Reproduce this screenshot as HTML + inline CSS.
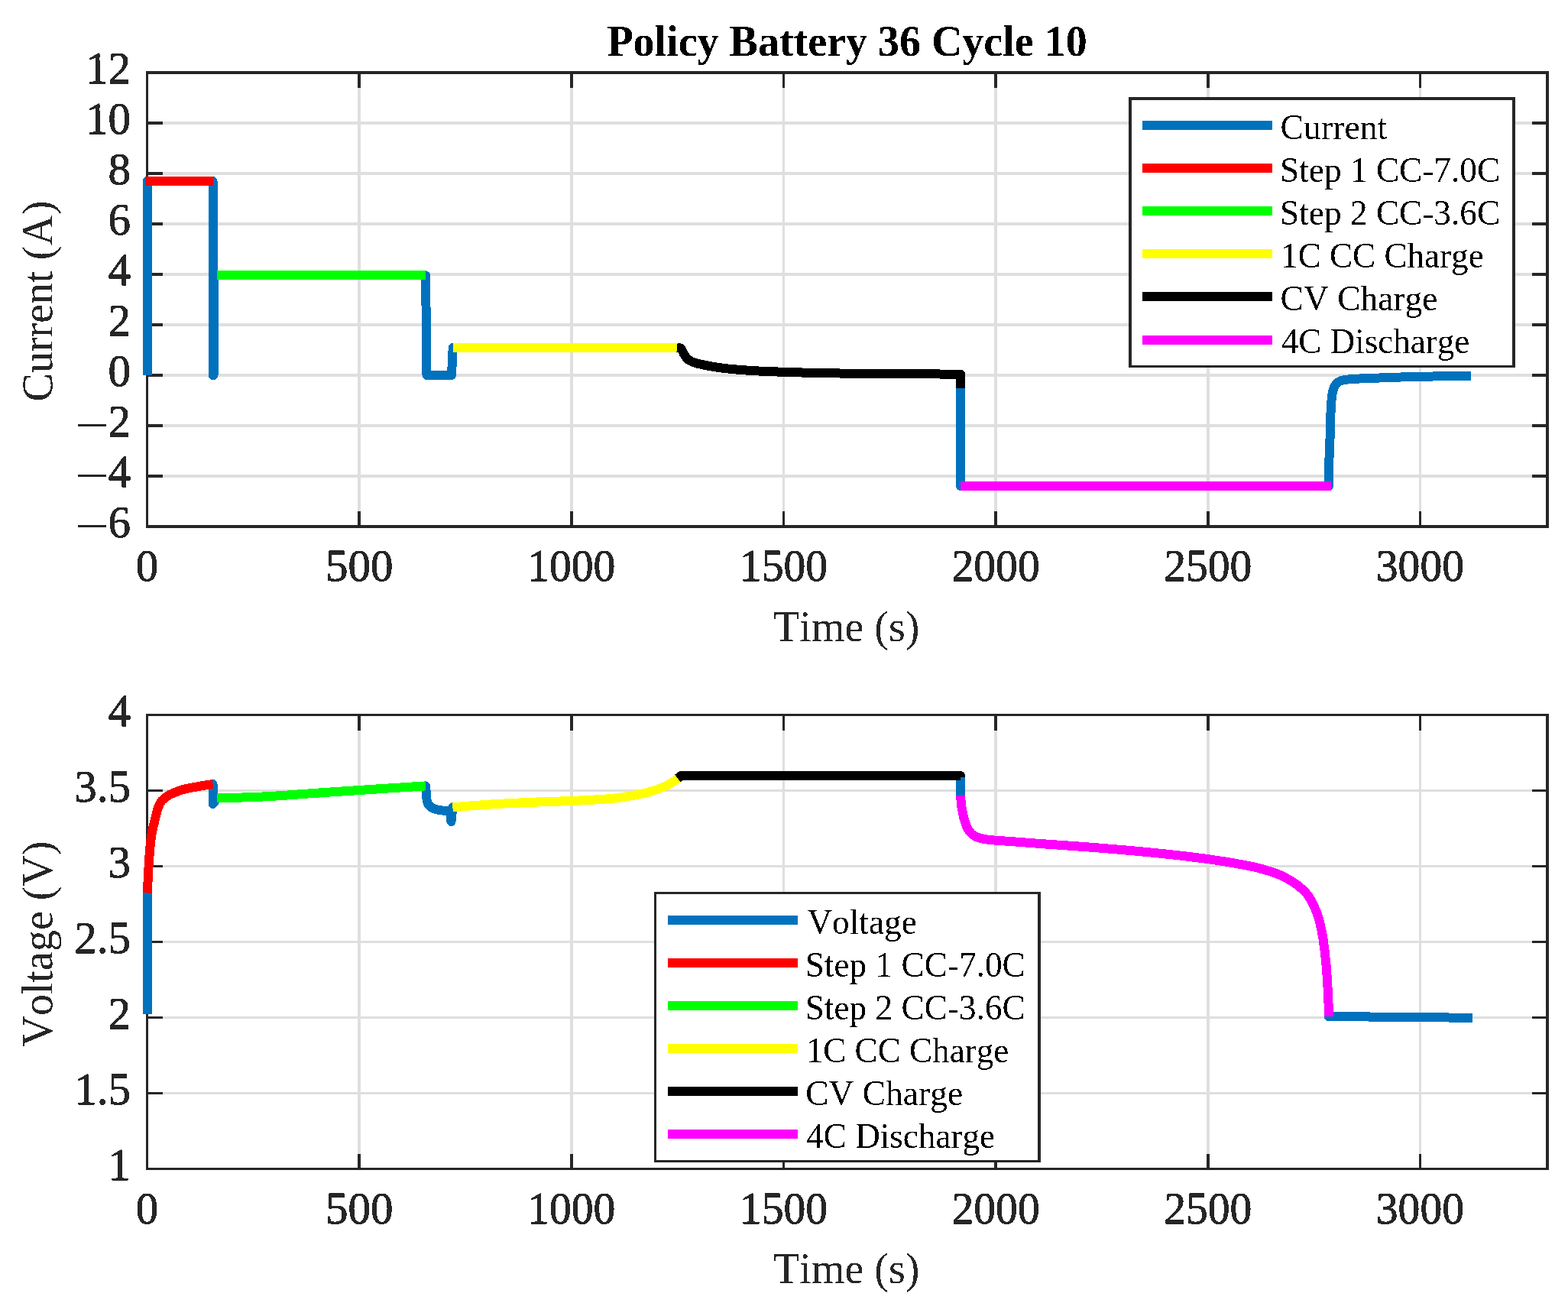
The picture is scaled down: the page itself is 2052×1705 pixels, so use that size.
<!DOCTYPE html><html><head><meta charset="utf-8"><title>Policy Battery 36 Cycle 10</title><style>html,body{margin:0;padding:0;background:#fff;}svg{display:block;}text{font-kerning:none;}</style></head><body>
<svg width="2052" height="1705" viewBox="0 0 2052 1705" shape-rendering="crispEdges">
<defs><filter id="bin" color-interpolation-filters="sRGB"><feComponentTransfer><feFuncA type="discrete" tableValues="0 1"/></feComponentTransfer></filter></defs>
<rect width="2052" height="1705" fill="#ffffff"/>
<line x1="470.15" y1="95" x2="470.15" y2="689" stroke="#dfdfdf" stroke-width="3.6"/><line x1="747.8" y1="95" x2="747.8" y2="689" stroke="#dfdfdf" stroke-width="3.6"/><line x1="1025.45" y1="95" x2="1025.45" y2="689" stroke="#dfdfdf" stroke-width="3.6"/><line x1="1303.11" y1="95" x2="1303.11" y2="689" stroke="#dfdfdf" stroke-width="3.6"/><line x1="1580.76" y1="95" x2="1580.76" y2="689" stroke="#dfdfdf" stroke-width="3.6"/><line x1="1858.41" y1="95" x2="1858.41" y2="689" stroke="#dfdfdf" stroke-width="3.6"/><line x1="192.5" y1="623" x2="2025" y2="623" stroke="#dfdfdf" stroke-width="3.6"/><line x1="192.5" y1="557" x2="2025" y2="557" stroke="#dfdfdf" stroke-width="3.6"/><line x1="192.5" y1="491" x2="2025" y2="491" stroke="#dfdfdf" stroke-width="3.6"/><line x1="192.5" y1="425" x2="2025" y2="425" stroke="#dfdfdf" stroke-width="3.6"/><line x1="192.5" y1="359" x2="2025" y2="359" stroke="#dfdfdf" stroke-width="3.6"/><line x1="192.5" y1="293" x2="2025" y2="293" stroke="#dfdfdf" stroke-width="3.6"/><line x1="192.5" y1="227" x2="2025" y2="227" stroke="#dfdfdf" stroke-width="3.6"/><line x1="192.5" y1="161" x2="2025" y2="161" stroke="#dfdfdf" stroke-width="3.6"/>
<line x1="470.15" y1="935.5" x2="470.15" y2="1529.5" stroke="#dfdfdf" stroke-width="3.6"/><line x1="747.8" y1="935.5" x2="747.8" y2="1529.5" stroke="#dfdfdf" stroke-width="3.6"/><line x1="1025.45" y1="935.5" x2="1025.45" y2="1529.5" stroke="#dfdfdf" stroke-width="3.6"/><line x1="1303.11" y1="935.5" x2="1303.11" y2="1529.5" stroke="#dfdfdf" stroke-width="3.6"/><line x1="1580.76" y1="935.5" x2="1580.76" y2="1529.5" stroke="#dfdfdf" stroke-width="3.6"/><line x1="1858.41" y1="935.5" x2="1858.41" y2="1529.5" stroke="#dfdfdf" stroke-width="3.6"/><line x1="192.5" y1="1430.5" x2="2025" y2="1430.5" stroke="#dfdfdf" stroke-width="3.6"/><line x1="192.5" y1="1331.5" x2="2025" y2="1331.5" stroke="#dfdfdf" stroke-width="3.6"/><line x1="192.5" y1="1232.5" x2="2025" y2="1232.5" stroke="#dfdfdf" stroke-width="3.6"/><line x1="192.5" y1="1133.5" x2="2025" y2="1133.5" stroke="#dfdfdf" stroke-width="3.6"/><line x1="192.5" y1="1034.5" x2="2025" y2="1034.5" stroke="#dfdfdf" stroke-width="3.6"/>
<rect x="192.5" y="95" width="1832.5" height="594" fill="none" stroke="#262626" stroke-width="3.6"/><path d="M470.15 689 V669 M470.15 95 V115 M747.8 689 V669 M747.8 95 V115 M1025.45 689 V669 M1025.45 95 V115 M1303.11 689 V669 M1303.11 95 V115 M1580.76 689 V669 M1580.76 95 V115 M1858.41 689 V669 M1858.41 95 V115 M192.5 623 H212.5 M2025 623 H2005 M192.5 557 H212.5 M2025 557 H2005 M192.5 491 H212.5 M2025 491 H2005 M192.5 425 H212.5 M2025 425 H2005 M192.5 359 H212.5 M2025 359 H2005 M192.5 293 H212.5 M2025 293 H2005 M192.5 227 H212.5 M2025 227 H2005 M192.5 161 H212.5 M2025 161 H2005" stroke="#262626" stroke-width="3.6" fill="none"/>
<rect x="192.5" y="935.5" width="1832.5" height="594" fill="none" stroke="#262626" stroke-width="3.6"/><path d="M470.15 1529.5 V1509.5 M470.15 935.5 V955.5 M747.8 1529.5 V1509.5 M747.8 935.5 V955.5 M1025.45 1529.5 V1509.5 M1025.45 935.5 V955.5 M1303.11 1529.5 V1509.5 M1303.11 935.5 V955.5 M1580.76 1529.5 V1509.5 M1580.76 935.5 V955.5 M1858.41 1529.5 V1509.5 M1858.41 935.5 V955.5 M192.5 1430.5 H212.5 M2025 1430.5 H2005 M192.5 1331.5 H212.5 M2025 1331.5 H2005 M192.5 1232.5 H212.5 M2025 1232.5 H2005 M192.5 1133.5 H212.5 M2025 1133.5 H2005 M192.5 1034.5 H212.5 M2025 1034.5 H2005" stroke="#262626" stroke-width="3.6" fill="none"/>
<path d="M192.9 491 L192.9 237 L278.5 237 L278.5 491 L279.5 491 L279.5 360.3 L557 360.3 L557.5 400 L558.2 460 L558.5 491 L591 491 L592.7 454.9 L886 455 L886 455 C886.75 455.08 889.33 454.83 890.5 455.5 C891.67 456.17 892.08 457.42 893 459 C893.92 460.58 894.83 463.17 896 465 C897.17 466.83 898.5 468.67 900 470 C901.5 471.33 903.17 472.12 905 473 C906.83 473.88 908.72 474.63 911 475.3 C913.28 475.97 915.78 476.38 918.7 477 C921.62 477.62 924.45 478.28 928.5 479 C932.55 479.72 937.42 480.57 943 481.3 C948.58 482.03 954.33 482.73 962 483.4 C969.67 484.07 979.33 484.77 989 485.3 C998.67 485.83 1009.33 486.22 1020 486.6 C1030.67 486.98 1036.83 487.23 1053 487.6 C1069.17 487.97 1095.83 488.52 1117 488.8 C1138.17 489.08 1156.67 489.17 1180 489.3 C1203.33 489.43 1244.17 489.55 1257 489.6 L1257 635.8 L1739 635.8 L1739 636 C1739.08 630 1739.25 610.17 1739.5 600 C1739.75 589.83 1740.17 585 1740.5 575 C1740.83 565 1741.17 548.5 1741.5 540 C1741.83 531.5 1742.08 528.5 1742.5 524 C1742.92 519.5 1743.25 516.25 1744 513 C1744.75 509.75 1745.67 506.75 1747 504.5 C1748.33 502.25 1749.83 500.75 1752 499.5 C1754.17 498.25 1757 497.57 1760 497 C1763 496.43 1765.83 496.4 1770 496.1 C1774.17 495.8 1779.17 495.47 1785 495.2 C1790.83 494.93 1795.83 494.82 1805 494.5 C1814.17 494.18 1827.5 493.65 1840 493.3 C1852.5 492.95 1865.83 492.68 1880 492.4 C1894.17 492.12 1917.5 491.73 1925 491.6" fill="none" stroke="#0072bd" stroke-width="12" stroke-linecap="butt" stroke-linejoin="round" shape-rendering="crispEdges"/><path d="M190 237 L278.5 237" fill="none" stroke="#ff0000" stroke-width="12" stroke-linecap="butt" stroke-linejoin="round" shape-rendering="crispEdges"/><path d="M284 360.3 L557.4 360.3" fill="none" stroke="#00ff00" stroke-width="12" stroke-linecap="butt" stroke-linejoin="round" shape-rendering="crispEdges"/><path d="M592.7 454.9 L886.8 454.9" fill="none" stroke="#ffff00" stroke-width="12" stroke-linecap="butt" stroke-linejoin="round" shape-rendering="crispEdges"/><path d="M886 455 C886.75 455.08 889.33 454.83 890.5 455.5 C891.67 456.17 892.08 457.42 893 459 C893.92 460.58 894.83 463.17 896 465 C897.17 466.83 898.5 468.67 900 470 C901.5 471.33 903.17 472.12 905 473 C906.83 473.88 908.72 474.63 911 475.3 C913.28 475.97 915.78 476.38 918.7 477 C921.62 477.62 924.45 478.28 928.5 479 C932.55 479.72 937.42 480.57 943 481.3 C948.58 482.03 954.33 482.73 962 483.4 C969.67 484.07 979.33 484.77 989 485.3 C998.67 485.83 1009.33 486.22 1020 486.6 C1030.67 486.98 1036.83 487.23 1053 487.6 C1069.17 487.97 1095.83 488.52 1117 488.8 C1138.17 489.08 1156.67 489.17 1180 489.3 C1203.33 489.43 1244.17 489.55 1257 489.6 L1257 508" fill="none" stroke="#000000" stroke-width="12" stroke-linecap="butt" stroke-linejoin="round" shape-rendering="crispEdges"/><path d="M1257 635.8 L1742 635.8" fill="none" stroke="#ff00ff" stroke-width="12" stroke-linecap="butt" stroke-linejoin="round" shape-rendering="crispEdges"/>
<path d="M193 1327 L193 1168.5 L192.9 1168.5 C193.12 1163.75 193.63 1149.75 194.2 1140 C194.77 1130.25 195.55 1118.33 196.3 1110 C197.05 1101.67 197.72 1095.83 198.7 1090 C199.68 1084.17 201.22 1079.17 202.2 1075 C203.18 1070.83 203.7 1068.33 204.6 1065 C205.5 1061.67 206.37 1057.92 207.6 1055 C208.83 1052.08 209.93 1049.83 212 1047.5 C214.07 1045.17 217 1042.83 220 1041 C223 1039.17 226.67 1037.83 230 1036.5 C233.33 1035.17 235 1034.25 240 1033 C245 1031.75 253.58 1030.17 260 1029 C266.42 1027.83 275.42 1026.5 278.5 1026 L278.5 1052 L284 1044.5 C294.67 1044.13 326 1043.45 348 1042.3 C370 1041.15 393.17 1039.15 416 1037.6 C438.83 1036.05 461.5 1034.53 485 1033 C508.5 1031.47 545 1029.17 557 1028.4 L557 1028.4 C557.17 1030.33 557.67 1036.57 558 1040 C558.33 1043.43 558.33 1046.58 559 1049 C559.67 1051.42 560.5 1052.95 562 1054.5 C563.5 1056.05 565.83 1057.38 568 1058.3 C570.17 1059.22 572.33 1059.55 575 1060 C577.67 1060.45 582.5 1060.83 584 1061 L589 1062 L590.5 1075 L592.4 1056.3 C601.33 1055.63 628.07 1053.42 646 1052.3 C663.93 1051.18 682.67 1050.33 700 1049.6 C717.33 1048.87 733.33 1048.67 750 1047.9 C766.67 1047.13 786.67 1046.22 800 1045 C813.33 1043.78 821.67 1042.05 830 1040.6 C838.33 1039.15 843.33 1038.23 850 1036.3 C856.67 1034.37 864.67 1031.35 870 1029 C875.33 1026.65 879 1024 882 1022.2 C885 1020.4 887 1018.87 888 1018.2 L891.5 1015 L1257 1015 L1257 1041 L1257 1041 C1257.25 1043.5 1257.75 1051 1258.5 1056 C1259.25 1061 1260.25 1066.42 1261.5 1071 C1262.75 1075.58 1264.25 1080.08 1266 1083.5 C1267.75 1086.92 1269.5 1089.37 1272 1091.5 C1274.5 1093.63 1277.17 1095.05 1281 1096.3 C1284.83 1097.55 1287 1098.13 1295 1099 C1303 1099.87 1318.17 1100.68 1329 1101.5 C1339.83 1102.32 1341.83 1102.57 1360 1103.9 C1378.17 1105.23 1412 1107.4 1438 1109.5 C1464 1111.6 1492.33 1114.08 1516 1116.5 C1539.67 1118.92 1560.5 1121.3 1580 1124 C1599.5 1126.7 1620.07 1130.22 1633 1132.7 C1645.93 1135.18 1650.57 1136.85 1657.6 1138.9 C1664.63 1140.95 1669.33 1142.38 1675.2 1145 C1681.07 1147.62 1688.17 1151.68 1692.8 1154.6 C1697.43 1157.52 1699.8 1159.6 1703 1162.5 C1706.2 1165.4 1709.28 1168.25 1712 1172 C1714.72 1175.75 1717.1 1180.33 1719.3 1185 C1721.5 1189.67 1723.6 1195 1725.2 1200 C1726.8 1205 1727.82 1210 1728.9 1215 C1729.98 1220 1730.63 1222.5 1731.7 1230 C1732.77 1237.5 1734.35 1250 1735.3 1260 C1736.25 1270 1736.85 1280.83 1737.4 1290 C1737.95 1299.17 1738.37 1308.33 1738.6 1315 C1738.83 1321.67 1738.77 1327.5 1738.8 1330 L1927 1331.8" fill="none" stroke="#0072bd" stroke-width="12" stroke-linecap="butt" stroke-linejoin="round" shape-rendering="crispEdges"/><path d="M192.9 1168.5 C193.12 1163.75 193.63 1149.75 194.2 1140 C194.77 1130.25 195.55 1118.33 196.3 1110 C197.05 1101.67 197.72 1095.83 198.7 1090 C199.68 1084.17 201.22 1079.17 202.2 1075 C203.18 1070.83 203.7 1068.33 204.6 1065 C205.5 1061.67 206.37 1057.92 207.6 1055 C208.83 1052.08 209.93 1049.83 212 1047.5 C214.07 1045.17 217 1042.83 220 1041 C223 1039.17 226.67 1037.83 230 1036.5 C233.33 1035.17 235 1034.25 240 1033 C245 1031.75 253.58 1030.17 260 1029 C266.42 1027.83 275.42 1026.5 278.5 1026" fill="none" stroke="#ff0000" stroke-width="12" stroke-linecap="butt" stroke-linejoin="round" shape-rendering="crispEdges"/><path d="M284 1044.5 C294.67 1044.13 326 1043.45 348 1042.3 C370 1041.15 393.17 1039.15 416 1037.6 C438.83 1036.05 461.5 1034.53 485 1033 C508.5 1031.47 545 1029.17 557 1028.4" fill="none" stroke="#00ff00" stroke-width="12" stroke-linecap="butt" stroke-linejoin="round" shape-rendering="crispEdges"/><path d="M592.4 1056.3 C601.33 1055.63 628.07 1053.42 646 1052.3 C663.93 1051.18 682.67 1050.33 700 1049.6 C717.33 1048.87 733.33 1048.67 750 1047.9 C766.67 1047.13 786.67 1046.22 800 1045 C813.33 1043.78 821.67 1042.05 830 1040.6 C838.33 1039.15 843.33 1038.23 850 1036.3 C856.67 1034.37 864.67 1031.35 870 1029 C875.33 1026.65 879 1024 882 1022.2 C885 1020.4 887 1018.87 888 1018.2" fill="none" stroke="#ffff00" stroke-width="12" stroke-linecap="butt" stroke-linejoin="round" shape-rendering="crispEdges"/><path d="M886.7 1018.3 L891.5 1015 L1257 1015 L1257 1017" fill="none" stroke="#000000" stroke-width="12" stroke-linecap="butt" stroke-linejoin="round" shape-rendering="crispEdges"/><path d="M1257 1041 C1257.25 1043.5 1257.75 1051 1258.5 1056 C1259.25 1061 1260.25 1066.42 1261.5 1071 C1262.75 1075.58 1264.25 1080.08 1266 1083.5 C1267.75 1086.92 1269.5 1089.37 1272 1091.5 C1274.5 1093.63 1277.17 1095.05 1281 1096.3 C1284.83 1097.55 1287 1098.13 1295 1099 C1303 1099.87 1318.17 1100.68 1329 1101.5 C1339.83 1102.32 1341.83 1102.57 1360 1103.9 C1378.17 1105.23 1412 1107.4 1438 1109.5 C1464 1111.6 1492.33 1114.08 1516 1116.5 C1539.67 1118.92 1560.5 1121.3 1580 1124 C1599.5 1126.7 1620.07 1130.22 1633 1132.7 C1645.93 1135.18 1650.57 1136.85 1657.6 1138.9 C1664.63 1140.95 1669.33 1142.38 1675.2 1145 C1681.07 1147.62 1688.17 1151.68 1692.8 1154.6 C1697.43 1157.52 1699.8 1159.6 1703 1162.5 C1706.2 1165.4 1709.28 1168.25 1712 1172 C1714.72 1175.75 1717.1 1180.33 1719.3 1185 C1721.5 1189.67 1723.6 1195 1725.2 1200 C1726.8 1205 1727.82 1210 1728.9 1215 C1729.98 1220 1730.63 1222.5 1731.7 1230 C1732.77 1237.5 1734.35 1250 1735.3 1260 C1736.25 1270 1736.85 1280.83 1737.4 1290 C1737.95 1299.17 1738.37 1308.33 1738.6 1315 C1738.83 1321.67 1738.77 1327.5 1738.8 1330" fill="none" stroke="#ff00ff" stroke-width="12" stroke-linecap="butt" stroke-linejoin="round" shape-rendering="crispEdges"/>
<g font-family="Liberation Serif, serif" font-size="59" fill="#262626" stroke="#262626" stroke-width="0.8"><text filter="url(#bin)" x="171" y="703.3" text-anchor="end"><tspan font-size="62" dy="5.7" stroke="none" textLength="44.5" lengthAdjust="spacingAndGlyphs">−</tspan><tspan dy="-5.7" dx="-1">6</tspan></text><text filter="url(#bin)" x="171" y="637.3" text-anchor="end"><tspan font-size="62" dy="5.7" stroke="none" textLength="44.5" lengthAdjust="spacingAndGlyphs">−</tspan><tspan dy="-5.7" dx="-1">4</tspan></text><text filter="url(#bin)" x="171" y="571.3" text-anchor="end"><tspan font-size="62" dy="5.7" stroke="none" textLength="44.5" lengthAdjust="spacingAndGlyphs">−</tspan><tspan dy="-5.7" dx="-1">2</tspan></text><text filter="url(#bin)" x="171" y="505.3" text-anchor="end">0</text><text filter="url(#bin)" x="171" y="439.3" text-anchor="end">2</text><text filter="url(#bin)" x="171" y="373.3" text-anchor="end">4</text><text filter="url(#bin)" x="171" y="307.3" text-anchor="end">6</text><text filter="url(#bin)" x="171" y="241.3" text-anchor="end">8</text><text filter="url(#bin)" x="171" y="175.3" text-anchor="end">10</text><text filter="url(#bin)" x="171" y="109.3" text-anchor="end">12</text><text filter="url(#bin)" x="192.5" y="760.2" text-anchor="middle">0</text><text filter="url(#bin)" x="470.15" y="760.2" text-anchor="middle">500</text><text filter="url(#bin)" x="747.8" y="760.2" text-anchor="middle" textLength="115.2" lengthAdjust="spacingAndGlyphs">1000</text><text filter="url(#bin)" x="1025.45" y="760.2" text-anchor="middle" textLength="115.2" lengthAdjust="spacingAndGlyphs">1500</text><text filter="url(#bin)" x="1303.11" y="760.2" text-anchor="middle" textLength="115.2" lengthAdjust="spacingAndGlyphs">2000</text><text filter="url(#bin)" x="1580.76" y="760.2" text-anchor="middle" textLength="115.2" lengthAdjust="spacingAndGlyphs">2500</text><text filter="url(#bin)" x="1858.41" y="760.2" text-anchor="middle" textLength="115.2" lengthAdjust="spacingAndGlyphs">3000</text></g><text filter="url(#bin)" x="1107.75" y="838.8" text-anchor="middle" font-family="Liberation Serif, serif" font-size="56" fill="#262626">Time (s)</text><text filter="url(#bin)" transform="translate(68.4 394) rotate(-90)" text-anchor="middle" font-family="Liberation Serif, serif" font-size="56" fill="#262626">Current (A)</text>
<g font-family="Liberation Serif, serif" font-size="59" fill="#262626" stroke="#262626" stroke-width="0.8"><text filter="url(#bin)" x="171" y="1543.8" text-anchor="end">1</text><text filter="url(#bin)" x="171" y="1444.8" text-anchor="end">1.5</text><text filter="url(#bin)" x="171" y="1345.8" text-anchor="end">2</text><text filter="url(#bin)" x="171" y="1246.8" text-anchor="end">2.5</text><text filter="url(#bin)" x="171" y="1147.8" text-anchor="end">3</text><text filter="url(#bin)" x="171" y="1048.8" text-anchor="end">3.5</text><text filter="url(#bin)" x="171" y="949.8" text-anchor="end">4</text><text filter="url(#bin)" x="192.5" y="1600.7" text-anchor="middle">0</text><text filter="url(#bin)" x="470.15" y="1600.7" text-anchor="middle">500</text><text filter="url(#bin)" x="747.8" y="1600.7" text-anchor="middle" textLength="115.2" lengthAdjust="spacingAndGlyphs">1000</text><text filter="url(#bin)" x="1025.45" y="1600.7" text-anchor="middle" textLength="115.2" lengthAdjust="spacingAndGlyphs">1500</text><text filter="url(#bin)" x="1303.11" y="1600.7" text-anchor="middle" textLength="115.2" lengthAdjust="spacingAndGlyphs">2000</text><text filter="url(#bin)" x="1580.76" y="1600.7" text-anchor="middle" textLength="115.2" lengthAdjust="spacingAndGlyphs">2500</text><text filter="url(#bin)" x="1858.41" y="1600.7" text-anchor="middle" textLength="115.2" lengthAdjust="spacingAndGlyphs">3000</text></g><text filter="url(#bin)" x="1107.75" y="1679.3" text-anchor="middle" font-family="Liberation Serif, serif" font-size="56" fill="#262626">Time (s)</text><text filter="url(#bin)" transform="translate(68.4 1235) rotate(-90)" text-anchor="middle" font-family="Liberation Serif, serif" font-size="56" fill="#262626">Voltage (V)</text>
<text filter="url(#bin)" x="1108.5" y="73" text-anchor="middle" font-family="Liberation Serif, serif" font-weight="bold" font-size="56" fill="#000">Policy Battery 36 Cycle 10</text>
<rect x="1479" y="129" width="502" height="350.5" fill="#ffffff" stroke="#262626" stroke-width="3.6"/><line x1="1495" y1="164" x2="1665.3" y2="164" stroke="#0072bd" stroke-width="12"/><text filter="url(#bin)" x="1675.6" y="181.8" font-family="Liberation Serif, serif" font-size="46" fill="#000" textLength="139.7" lengthAdjust="spacingAndGlyphs">Current</text><line x1="1495" y1="220.1" x2="1665.3" y2="220.1" stroke="#ff0000" stroke-width="12"/><text filter="url(#bin)" x="1675.1" y="237.9" font-family="Liberation Serif, serif" font-size="46" fill="#000" textLength="288.1" lengthAdjust="spacingAndGlyphs">Step 1 CC-7.0C</text><line x1="1495" y1="276.2" x2="1665.3" y2="276.2" stroke="#00ff00" stroke-width="12"/><text filter="url(#bin)" x="1675.1" y="294" font-family="Liberation Serif, serif" font-size="46" fill="#000" textLength="288.1" lengthAdjust="spacingAndGlyphs">Step 2 CC-3.6C</text><line x1="1495" y1="332.3" x2="1665.3" y2="332.3" stroke="#ffff00" stroke-width="12"/><text filter="url(#bin)" x="1676.1" y="350.1" font-family="Liberation Serif, serif" font-size="46" fill="#000" textLength="265.6" lengthAdjust="spacingAndGlyphs">1C CC Charge</text><line x1="1495" y1="388.4" x2="1665.3" y2="388.4" stroke="#000000" stroke-width="12"/><text filter="url(#bin)" x="1675.6" y="406.2" font-family="Liberation Serif, serif" font-size="46" fill="#000" textLength="205.9" lengthAdjust="spacingAndGlyphs">CV Charge</text><line x1="1495" y1="444.5" x2="1665.3" y2="444.5" stroke="#ff00ff" stroke-width="12"/><text filter="url(#bin)" x="1676.7" y="462.3" font-family="Liberation Serif, serif" font-size="46" fill="#000" textLength="246.7" lengthAdjust="spacingAndGlyphs">4C Discharge</text>
<rect x="857.6" y="1168.7" width="502.6" height="350.8" fill="#ffffff" stroke="#262626" stroke-width="3.6"/><line x1="873.6" y1="1203.7" x2="1043.9" y2="1203.7" stroke="#0072bd" stroke-width="12"/><text filter="url(#bin)" x="1056.4" y="1221.5" font-family="Liberation Serif, serif" font-size="46" fill="#000" textLength="143.4" lengthAdjust="spacingAndGlyphs">Voltage</text><line x1="873.6" y1="1259.8" x2="1043.9" y2="1259.8" stroke="#ff0000" stroke-width="12"/><text filter="url(#bin)" x="1053.7" y="1277.6" font-family="Liberation Serif, serif" font-size="46" fill="#000" textLength="288.1" lengthAdjust="spacingAndGlyphs">Step 1 CC-7.0C</text><line x1="873.6" y1="1315.9" x2="1043.9" y2="1315.9" stroke="#00ff00" stroke-width="12"/><text filter="url(#bin)" x="1053.7" y="1333.7" font-family="Liberation Serif, serif" font-size="46" fill="#000" textLength="288.1" lengthAdjust="spacingAndGlyphs">Step 2 CC-3.6C</text><line x1="873.6" y1="1372" x2="1043.9" y2="1372" stroke="#ffff00" stroke-width="12"/><text filter="url(#bin)" x="1054.7" y="1389.8" font-family="Liberation Serif, serif" font-size="46" fill="#000" textLength="265.6" lengthAdjust="spacingAndGlyphs">1C CC Charge</text><line x1="873.6" y1="1428.1" x2="1043.9" y2="1428.1" stroke="#000000" stroke-width="12"/><text filter="url(#bin)" x="1054.2" y="1445.9" font-family="Liberation Serif, serif" font-size="46" fill="#000" textLength="205.9" lengthAdjust="spacingAndGlyphs">CV Charge</text><line x1="873.6" y1="1484.2" x2="1043.9" y2="1484.2" stroke="#ff00ff" stroke-width="12"/><text filter="url(#bin)" x="1055.3" y="1502" font-family="Liberation Serif, serif" font-size="46" fill="#000" textLength="246.7" lengthAdjust="spacingAndGlyphs">4C Discharge</text>
</svg></body></html>
